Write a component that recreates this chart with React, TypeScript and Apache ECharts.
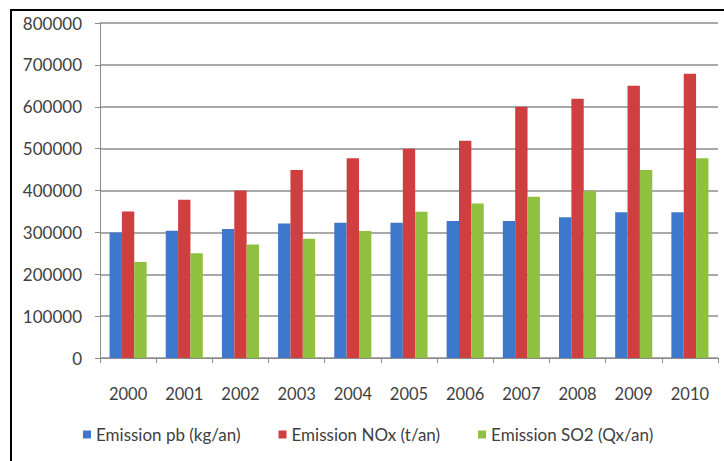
import React, { useEffect, useRef } from "react";
import * as echarts from "echarts";

const years = ["2000", "2001", "2002", "2003", "2004", "2005", "2006", "2007", "2008", "2009", "2010"];
const pbValues = [300000, 304000, 308000, 321000, 323000, 323000, 327000, 327000, 336000, 348000, 348000];
const noxValues = [350000, 378000, 400000, 449000, 477000, 500000, 519000, 600000, 619000, 650000, 679000];
const so2Values = [229000, 250000, 271000, 285000, 303000, 349000, 369000, 385000, 399000, 449000, 477000];
const seriesNames = ["Emission pb (kg/an)", "Emission NOx (t/an)", "Emission SO2 (Qx/an)"];

export default function App() {
  const ref = useRef<HTMLDivElement>(null);
  useEffect(() => {
    if (!ref.current) return;
    const chart = echarts.init(ref.current, undefined, { renderer: "svg" });
    const font = "Lato";
    chart.setOption({
      animation: false,
      backgroundColor: "#ffffff",
      textStyle: { fontFamily: font },
      color: ["#3D78CC", "#CF3F3F", "#90C040"],
      graphic: [
        {
          type: "rect",
          shape: { x: 11, y: 10, width: 760, height: 500 },
          style: { fill: "none", stroke: "#000", lineWidth: 2 },
          z: 100,
        },
      ],
      legend: {
        bottom: 13,
        left: 78,
        itemWidth: 8,
        itemHeight: 8,
        itemGap: 38,
        icon: "rect",
        textStyle: { fontFamily: font, fontSize: 17, color: "#404040" },
        data: seriesNames,
      },
      grid: { left: 100, right: 6, top: 23, bottom: 103, containLabel: false },
      xAxis: {
        type: "category",
        data: years,
        axisLine: { lineStyle: { color: "#8c8c8c" } },
        axisTick: { show: true, alignWithLabel: false, length: 5, lineStyle: { color: "#8c8c8c" } },
        axisLabel: { fontFamily: font, fontSize: 16.5, color: "#404040", margin: 27 },
      },
      yAxis: {
        type: "value",
        min: 0,
        max: 800000,
        interval: 100000,
        axisLine: { show: true, lineStyle: { color: "#8c8c8c" } },
        axisTick: { show: true, length: 5, lineStyle: { color: "#8c8c8c" } },
        splitLine: { lineStyle: { color: "#8c8c8c", width: 1.5 } },
        axisLabel: {
          fontFamily: font,
          fontSize: 17,
          color: "#404040",
          margin: 18,
          formatter: (v: number) => String(v),
        },
      },
      series: [
        { name: seriesNames[0], type: "bar", data: pbValues, barGap: "0%", barCategoryGap: "34%" },
        { name: seriesNames[1], type: "bar", data: noxValues, barGap: "0%", barCategoryGap: "34%" },
        { name: seriesNames[2], type: "bar", data: so2Values, barGap: "0%", barCategoryGap: "34%" },
      ],
    });
    return () => chart.dispose();
  }, []);
  return (
    <div
      ref={ref}
      style={{ position: "fixed", left: 0, top: 0, width: 724, height: 461 }}
    />
  );
}
